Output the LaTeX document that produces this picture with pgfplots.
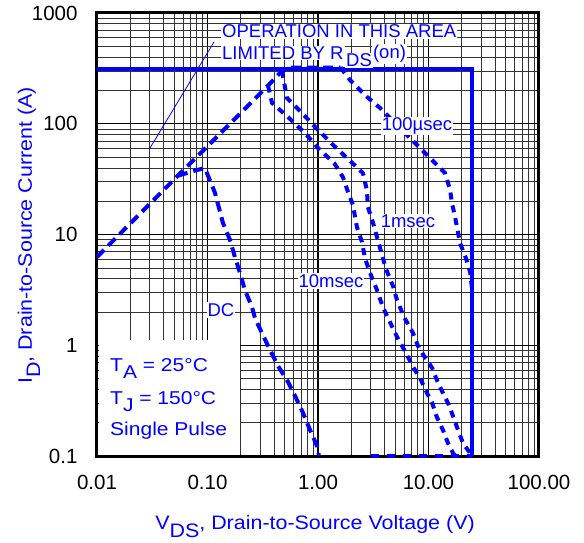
\documentclass[border=0pt]{standalone}
\usepackage{fontspec}
\setmainfont{Liberation Sans}
\newfontfamily\boxfont[FakeStretch=1.13]{Liberation Sans}
\newfontfamily\labfont[FakeStretch=1.1]{Liberation Sans}
\usepackage{pgfplots}
\pgfplotsset{compat=1.18}
\newcommand{\lsub}[1]{\raisebox{-0.42em}{#1}}

\begin{document}
\begin{tikzpicture}
\useasboundingbox (-97pt,-86pt) rectangle (487pt,456pt);
\begin{axis}[
  at={(0pt,0pt)}, anchor=south west,
  scale only axis, width=442pt, height=443pt,
  xmode=log, ymode=log,
  xmin=0.01, xmax=100, ymin=0.1, ymax=1000,
  xtick={0.01,0.1,1,10,100},
  xticklabels={0.01,0.10,1.00,10.00,100.00},
  ytick={0.1,1,10,100,1000},
  yticklabels={0.1,1,10,100,1000},
  minor xtick={0.02,0.03,0.04,0.05,0.06,0.07,0.08,0.09,0.2,0.3,0.4,0.5,0.6,0.7,0.8,0.9,2,3,4,5,6,7,8,9,20,30,40,50,60,70,80,90},
  minor ytick={0.2,0.3,0.4,0.5,0.6,0.7,0.8,0.9,2,3,4,5,6,7,8,9,20,30,40,50,60,70,80,90,200,300,400,500,600,700,800,900},
  grid=both,
  major grid style={black, line width=1.2pt},
  minor grid style={black!80, line width=0.6pt},
  major tick length=0pt, minor tick length=0pt,
  axis line style={black, line width=3pt},
  tick label style={font=\fontsize{20.5}{22}\selectfont, black},
  xticklabel style={yshift=-16pt},
  yticklabel style={xshift=-16pt},
  clip=false,
]
% R_DS(on) limit and V_DS max
\addplot[blue, line width=4pt, line cap=butt] coordinates {(0.01,312) (25,312) (25,0.1)};
% common rising part and 100us top
\addplot[blue, line width=4pt, dash pattern=on 10pt off 6pt] coordinates {
(0.01,6.27) (0.054,34) (0.1,62.7) (0.2,125) (0.353,221) (0.472,300) (0.55,322) (1.0,322) (1.6,322)};
% DC
\addplot[blue, line width=4pt, dash pattern=on 10pt off 6pt] coordinates {
(0.054,34) (0.0804,38.2) (0.0948,39.8) (0.105,31) (0.117,23.7) (0.138,12.7) (0.160,8.9) (0.177,6.27) (0.197,4.49) (0.218,3.15) (0.253,2.21) (0.269,1.76) (0.311,1.29) (0.368,0.906) (0.435,0.65) (0.536,0.466) (0.633,0.334) (0.732,0.245) (0.847,0.172) (0.98,0.123) (1.02,0.1)};
% 100us
\addplot[blue, line width=4pt, dash pattern=on 7pt off 6pt] coordinates {
(1.6,322) (1.95,248) (2.77,175) (3.64,139) (7.09,71.3) (8.73,57.9) (11.9,42.5) (14.1,35.9) (15.7,25.2) (16.3,19.2) (17.4,14.4) (19.3,8.37) (21.8,6.13) (23.8,4.58) (25,3)};
% 1ms
\addplot[blue, line width=4pt, dash pattern=on 7pt off 6pt] coordinates {
(0.472,300) (0.524,171) (0.716,125) (1.0,87.9) (1.40,63) (1.87,48.1) (2.55,35.9) (2.77,25.2) (2.83,17.7) (3.15,12.7) (3.42,9.48) (3.80,6.53) (4.12,4.89) (4.77,3.43) (5.19,2.56) (6.0,1.8) (7.24,1.29) (8.04,0.985) (9.1,0.8) (10.8,0.623) (11.9,0.486) (13.5,0.371) (15.3,0.289) (18.5,0.172) (20.5,0.131) (23.8,0.106) (25,0.1)};
% 10ms
\addplot[blue, line width=4pt, dash pattern=on 7pt off 6pt] coordinates {
(0.353,221) (0.384,154) (0.535,115) (0.763,82.4) (1.0,60.4) (1.40,44.2) (1.68,33) (1.87,24.2) (2.07,18.5) (2.25,11.7) (2.5,8.56) (2.66,6.13) (2.96,4.49) (3.42,3.15) (3.87,2.21) (4.48,1.62) (5.19,1.19) (6.26,0.851) (7.24,0.637) (8.38,0.506) (9.68,0.371) (10.8,0.301) (11.9,0.225) (13.5,0.172) (15.0,0.131) (16.7,0.106) (17.5,0.1)};
% floor at 0.1 A
\addplot[blue, line width=4pt, dash pattern=on 8pt off 8pt] coordinates {(3.0,0.1) (25,0.1)};
\end{axis}
% annotations
\draw[blue, line width=0.8pt] (53pt,308pt) -- (117pt,414pt);
\begin{scope}[every node/.style={text=blue, fill=white, inner sep=1pt, font=\fontsize{18.5}{20}\selectfont}]
\node[anchor=west] at (124pt,424.5pt) {OPERATION IN THIS AREA};
\node[anchor=west] at (124pt,403pt) {LIMITED BY R};
\node at (262pt,395.5pt) {DS};
\node at (292.5pt,402pt) {(on)};
\node at (320pt,330pt) {100µsec};
\node at (311pt,235pt) {1msec};
\node at (234pt,175pt) {10msec};
\node at (124pt,146pt) {DC};
\end{scope}
\fill[white] (1.5pt,1.5pt) rectangle (143pt,116pt);
\begin{scope}[every node/.style={text=blue, inner sep=0pt, anchor=base west, font=\boxfont\fontsize{18.6}{20}\selectfont}]
\node at (13pt,85pt) {T\lsub{A} = 25°C};
\node at (13pt,52pt) {T\lsub{J} = 150°C};
\node at (13pt,21pt) {Single Pulse};
\end{scope}
\node[text=blue, anchor=base, inner sep=0pt, font=\labfont\fontsize{19.5}{21}\selectfont] at (218pt,-73pt) {V\lsub{DS}, Drain-to-Source Voltage (V)};
\node[text=blue, anchor=base, rotate=90, inner sep=0pt, font=\labfont\fontsize{19.5}{21}\selectfont] at (-65pt,220.5pt) {I\lsub{D}, Drain-to-Source Current (A)};
\end{tikzpicture}
\end{document}
